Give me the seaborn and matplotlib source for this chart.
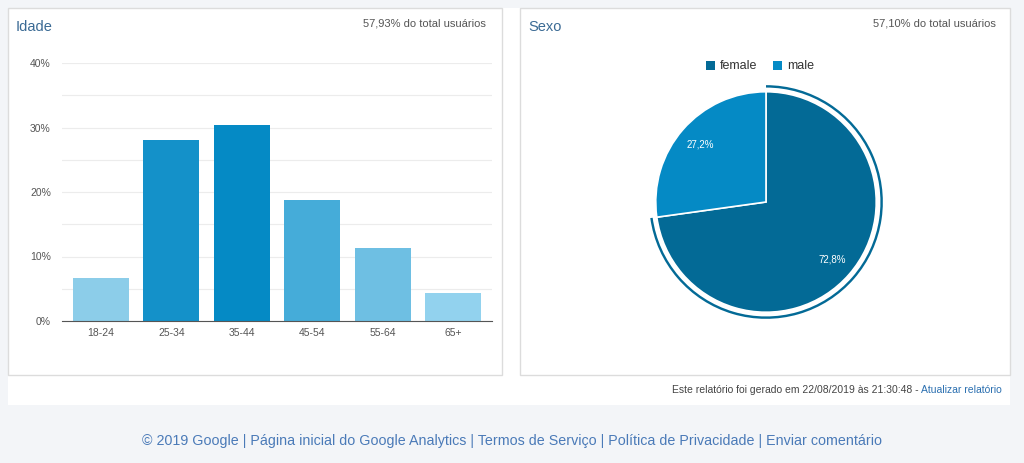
import matplotlib
matplotlib.use("Agg")
import matplotlib.pyplot as plt
import seaborn as sns
import pandas as pd
from matplotlib.patches import Rectangle, Wedge

age_groups = ["18-24", "25-34", "35-44", "45-54", "55-64", "65+"]
age_values = [6.6, 28.0, 30.4, 18.8, 11.3, 4.3]
age_colors = ["#8ccde9", "#1491c9", "#058ac5", "#45acd9", "#6ebfe3", "#92d2ee"]
y_ticks = [0, 10, 20, 30, 40]
sex_labels = ["female", "male"]
sex_values = [72.8, 27.2]
sex_colors = ["#036a96", "#058ac5"]

W, H = 1024, 463
fig = plt.figure(figsize=(W/100, H/100), dpi=100)
fig.patch.set_facecolor("#f3f5f8")
plt.rcParams["font.family"] = "Liberation Sans"

def fx(x): return x / W
def fy(y): return 1 - y / H

bg = fig.add_axes([0, 0, 1, 1]); bg.set_xlim(0, W); bg.set_ylim(H, 0); bg.axis("off")
bg.add_patch(Rectangle((8, 8), 1002, 397, fc="white", ec="none"))
bg.add_patch(Rectangle((8, 8), 494, 367, fc="white", ec="#dcdcdc", lw=1))
bg.add_patch(Rectangle((520, 8), 490, 367, fc="white", ec="#dcdcdc", lw=1))
bg.text(16, 27, "Idade", fontsize=10.5, color="#3a6a94", va="center")
bg.text(486, 24, "57,93% do total usuários", fontsize=8, color="#555", va="center", ha="right")
bg.text(528, 27, "Sexo", fontsize=10.5, color="#3a6a94", va="center")
bg.text(996, 24, "57,10% do total usuários", fontsize=8, color="#555", va="center", ha="right")
t = bg.text(1002, 390, "Atualizar relatório", fontsize=7.5, color="#2a6fb0", va="center", ha="right")
fig.canvas.draw()
wpx = t.get_window_extent().width
bg.text(1002 - wpx, 390, "Este relatório foi gerado em 22/08/2019 às 21:30:48 - ", fontsize=7.5,
        color="#444", va="center", ha="right")
bg.text(512, 441, "© 2019 Google | Página inicial do Google Analytics | Termos de Serviço | Política de Privacidade | Enviar comentário",
        fontsize=10.3, color="#4a7ab8", va="center", ha="center")

ax = fig.add_axes([fx(62), fy(321), fx(430), (321-63)/H])
df = pd.DataFrame({"age": age_groups, "val": age_values})
sns.barplot(data=df, x="age", y="val", hue="age", palette=age_colors, legend=False,
            width=0.8, ax=ax, saturation=1)
ax.set_ylim(0, 40)
ax.set_yticks(y_ticks)
ax.set_yticklabels([f"{v}%" for v in y_ticks], fontsize=7.5, color="#555")
ax.set_yticks([5, 15, 25, 35], minor=True)
ax.grid(axis="y", which="both", color="#ececec", lw=0.8)
ax.set_axisbelow(True)
ax.tick_params(axis="y", length=0, pad=8, which="both")
ax.tick_params(axis="x", length=0, pad=5, labelsize=7.5, labelcolor="#555")
ax.set_xlabel(""); ax.set_ylabel("")
for s in ["top", "right", "left"]:
    ax.spines[s].set_visible(False)
ax.spines["bottom"].set_color("#555")
ax.set_xlim(-0.55, 5.55)

pax = fig.add_axes([fx(766-140), fy(202+140), fx(280), 280/H])
wedges, texts = pax.pie(sex_values, colors=sex_colors, startangle=90, counterclock=False,
                        wedgeprops=dict(ec="white", lw=1.2), radius=1.0)
pax.text(0.6, -0.52, "72,8%", color="white", fontsize=7, ha="center", va="center")
pax.text(-0.6, 0.52, "27,2%", color="white", fontsize=7, ha="center", va="center")
th1 = wedges[0].theta1; th2 = wedges[0].theta2
pax.add_patch(Wedge((0, 0), 1.06, th1, th2, width=0.022, fc=sex_colors[0], ec="none"))
pax.set_xlim(-1.27, 1.27); pax.set_ylim(-1.27, 1.27); pax.set_aspect("equal")
pax.axis("off")

for i, (lab, c) in enumerate(zip(sex_labels, sex_colors)):
    x0 = [706, 773][i]
    bg.add_patch(Rectangle((x0, 61), 9, 9, fc=c, ec="none"))
    bg.text(x0 + 14, 66, lab, fontsize=9, color="#333", va="center")

fig.savefig("out.png", dpi=100, facecolor=fig.get_facecolor())
